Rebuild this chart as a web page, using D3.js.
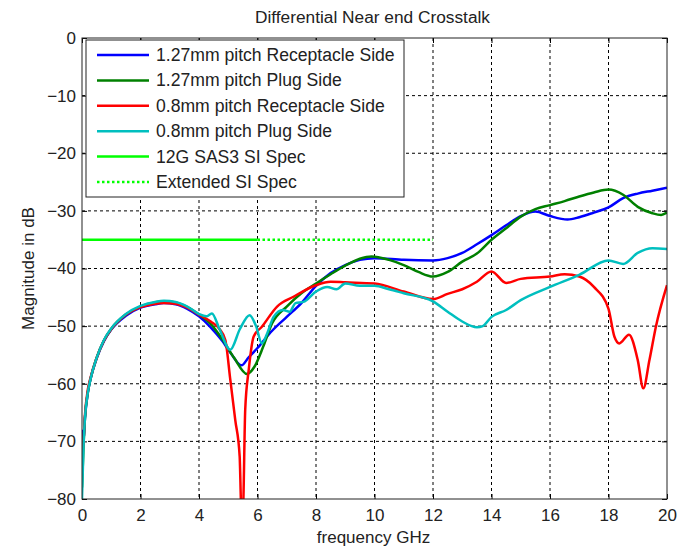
<!DOCTYPE html>
<html>
<head>
<meta charset="utf-8">
<script src="https://cdn.jsdelivr.net/npm/d3@7"></script>
<style>
  body { margin: 0; background: #fff; }
  text { font-family: "Liberation Sans", Arial, sans-serif; fill: #222; }
</style>
</head>
<body>
<svg id="chart" width="681" height="548"></svg>
<script>
// plot box
const width = 585;
const height = 461;
const margin = { top: 38, left: 82 };

// tick labels
const xTicks = [0, 2, 4, 6, 8, 10, 12, 14, 16, 18, 20];
const yTicks = [0, -10, -20, -30, -40, -50, -60, -70, -80];

// series names
const names = [
	"1.27mm pitch Receptacle Side",
	"1.27mm pitch Plug Side",
	"0.8mm pitch Receptacle Side",
	"0.8mm pitch Plug Side",
	"12G SAS3 SI Spec",
	"Extended SI Spec"
];

// 1.27mm receptacle (GHz, dB)
const blueFreq = [0, 0.05, 0.1, 0.2, 0.3, 0.5, 0.75, 1, 1.5, 2, 2.5, 2.8, 3.2, 3.6, 4, 4.4, 4.8, 5.1, 5.45, 5.7, 6, 6.5, 7, 7.5, 8, 8.5, 9, 9.5, 10, 11, 12, 12.5, 13, 13.5, 14, 14.5, 15, 15.5, 16, 16.6, 17, 17.5, 18, 18.5, 19, 19.5, 20];
const blueDb = [-68, -70, -66, -61.5, -59, -55.6, -52.6, -50.6, -48.2, -46.8, -46.2, -46, -46.2, -47, -48.3, -50.2, -52.6, -54.8, -56.8, -55.4, -53.8, -50.8, -48.4, -46, -43, -40.8, -39.4, -38.5, -38.2, -38.5, -38.6, -38.2, -37.3, -35.8, -34.2, -32.5, -30.9, -30.1, -30.9, -31.5, -31.1, -30.3, -29.4, -27.8, -27, -26.5, -26];

// 1.27mm plug
const greenFreq = [0, 0.05, 0.1, 0.2, 0.3, 0.5, 0.75, 1, 1.5, 2, 2.5, 2.8, 3.2, 3.6, 4, 4.4, 4.8, 5.2, 5.64, 5.9, 6.2, 6.5, 7, 7.5, 8, 8.5, 9, 9.5, 9.9, 10.5, 11, 11.5, 12, 12.5, 13, 13.5, 14, 14.5, 15, 15.5, 16, 16.5, 17, 17.5, 18, 18.5, 19, 19.5, 19.8, 20];
const greenDb = [-78, -71, -66, -61.5, -59, -55.5, -52.5, -50.5, -48, -46.6, -45.9, -45.7, -45.9, -46.7, -48, -49.6, -52.3, -55.5, -58.3, -57, -53.5, -49.5, -46.6, -44.3, -42.6, -41, -39.5, -38.3, -37.9, -38.5, -39.4, -40.6, -41.4, -40.6, -38.8, -37.4, -35, -33, -31, -29.7, -29, -28.3, -27.5, -26.8, -26.3, -27.2, -29.3, -30.4, -30.7, -30.3];

// 0.8mm receptacle
const redFreq = [0, 0.05, 0.1, 0.2, 0.3, 0.5, 0.75, 1, 1.5, 2, 2.5, 2.8, 3.2, 3.6, 4, 4.4, 4.7, 4.9, 5.07, 5.24, 5.39, 5.45, 5.5, 5.58, 5.7, 5.87, 6.15, 6.67, 7.23, 8, 8.5, 9, 10, 11, 12, 12.5, 13, 13.5, 14, 14.5, 15, 16, 16.5, 17, 17.5, 18, 18.2, 18.37, 18.7, 19, 19.19, 19.4, 19.62, 20];
const redDb = [-72, -70, -65.5, -61, -58.8, -55.5, -52.5, -50.5, -48, -46.7, -46.1, -46, -46.1, -46.8, -48, -49.2, -50.5, -52.4, -59.3, -66.3, -72.6, -82, -82, -64.5, -57.6, -51.8, -50.1, -46.6, -44.9, -42.9, -42.3, -42.4, -42.6, -44, -45.3, -44.4, -43.6, -42.3, -40.5, -42.5, -41.8, -41.4, -41, -41.4, -43.2, -47, -51.8, -53, -51.5, -55.9, -60.8, -55.9, -50.1, -42.9];

// 0.8mm plug
const cyanFreq = [0, 0.05, 0.1, 0.2, 0.3, 0.5, 0.75, 1, 1.5, 2, 2.5, 2.8, 3.2, 3.6, 4, 4.25, 4.44, 4.7, 5.07, 5.4, 5.73, 5.95, 6.15, 6.35, 6.55, 6.87, 7.1, 7.3, 7.57, 8, 8.38, 8.7, 9, 9.5, 10, 10.5, 11, 12, 12.5, 13, 13.5, 13.7, 14, 14.5, 15, 16, 17, 18, 18.5, 19, 19.5, 20];
const cyanDb = [-80, -71, -66, -61.5, -59, -55.5, -52.4, -50.4, -47.9, -46.5, -45.8, -45.6, -45.8, -46.6, -47.9, -48.3, -47.8, -50.5, -54.1, -50.5, -48.1, -50, -53, -51, -48.4, -47.2, -47.5, -46, -45.8, -44, -43.2, -43.6, -42.6, -43, -43, -43.6, -44.3, -45.7, -47.5, -49.2, -50.2, -50, -48.4, -47.2, -45.5, -43.2, -41.1, -38.6, -39.2, -37.3, -36.5, -36.6];

// spec limit
const specDb = -35;
const specFreq = [0, 6];
const extFreq = [6, 12];

const colors = ["#0000ff", "#008000", "#ff0000", "#00bfbf", "#00ff00", "#00ff00"];

const svg = d3.select("#chart");

const x = d3.scaleLinear().domain([0, 20]).range([margin.left, margin.left + width]);
const y = d3.scaleLinear().domain([-80, 0]).range([margin.top + height, margin.top]);

// title
svg.append("text")
.attr("x", x(10) - 2)
.attr("y", 23)
.attr("text-anchor", "middle")
.style("font-size", "17.3px")
.text("Differential Near end Crosstalk");

// grid
svg.append("g")
.selectAll("line")
.data(xTicks.slice(1, -1))
.enter()
.append("line")
.attr("x1", d => x(d)).attr("x2", d => x(d))
.attr("y1", y(0)).attr("y2", y(-80))
.attr("stroke", "#000")
.attr("stroke-dasharray", "3,3");

svg.append("g")
.selectAll("line")
.data(yTicks.slice(1, -1))
.enter()
.append("line")
.attr("y1", d => y(d)).attr("y2", d => y(d))
.attr("x1", x(0)).attr("x2", x(20))
.attr("stroke", "#000")
.attr("stroke-dasharray", "3,3");

// axes with inward ticks
svg.append("g")
.attr("transform", "translate(0," + y(-80) + ")")
.call(d3.axisBottom(x).tickValues(xTicks).tickSizeInner(-5).tickSizeOuter(0).tickPadding(10))
.call(g => g.select(".domain").remove())
.selectAll("text").style("font-size", "17px").attr("fill", "#222");

svg.append("g")
.attr("transform", "translate(" + x(0) + ",0)")
.call(d3.axisLeft(y).tickValues(yTicks).tickSizeInner(-5).tickSizeOuter(0).tickPadding(6))
.call(g => g.select(".domain").remove())
.selectAll("text").style("font-size", "17px").attr("fill", "#222");

svg.append("g")
.attr("transform", "translate(0," + y(0) + ")")
.call(d3.axisTop(x).tickValues(xTicks).tickSizeInner(-5).tickSizeOuter(0).tickFormat(""))
.call(g => g.select(".domain").remove());

svg.append("g")
.attr("transform", "translate(" + x(20) + ",0)")
.call(d3.axisRight(y).tickValues(yTicks).tickSizeInner(-5).tickSizeOuter(0).tickFormat(""))
.call(g => g.select(".domain").remove());

// curves
svg.append("clipPath").attr("id", "clip")
.append("rect")
.attr("x", x(0)).attr("y", y(0))
.attr("width", width).attr("height", height);

const line = d3.line().x(d => x(d[0])).y(d => y(d[1])).curve(d3.curveMonotoneX);
const plot = svg.append("g").attr("clip-path", "url(#clip)");

const curves = [
	d3.zip(blueFreq, blueDb),
	d3.zip(greenFreq, greenDb),
	d3.zip(redFreq, redDb),
	d3.zip(cyanFreq, cyanDb)
];

curves.forEach((pts, i) => {
	plot.append("path")
	.datum(pts)
	.attr("d", line)
	.attr("fill", "none")
	.attr("stroke", colors[i])
	.attr("stroke-width", 2.5)
	.attr("stroke-linejoin", "round");
});

plot.append("path")
.datum(specFreq.map(f => [f, specDb]))
.attr("d", line)
.attr("stroke", colors[4])
.attr("stroke-width", 2.5);

plot.append("path")
.datum(extFreq.map(f => [f, specDb]))
.attr("d", line)
.attr("stroke", colors[5])
.attr("stroke-width", 2.5)
.attr("stroke-dasharray", "2.5,2.5");

// box
svg.append("rect")
.attr("x", x(0)).attr("y", y(0))
.attr("width", width).attr("height", height)
.attr("fill", "none")
.attr("stroke", "#222");

// legend
const legend = svg.append("g").attr("transform", "translate(86,40)");

legend.append("rect")
.attr("width", 318).attr("height", 157)
.attr("fill", "#fff")
.attr("stroke", "#222");

names.forEach((name, i) => {
	const ly = 15 + i * 25.4;
	legend.append("line")
	.attr("x1", 11).attr("x2", 63)
	.attr("y1", ly).attr("y2", ly)
	.attr("stroke", colors[i])
	.attr("stroke-width", 2.5)
	.attr("stroke-dasharray", i === 5 ? "2.5,2.5" : null);
	legend.append("text")
	.attr("x", 70)
	.attr("y", ly + 6)
	.style("font-size", "17.6px")
	.text(name);
});

// axis labels
svg.append("text")
.attr("x", x(10) - 1)
.attr("y", 543)
.attr("text-anchor", "middle")
.style("font-size", "17px")
.text("frequency GHz");

svg.append("text")
.attr("transform", "rotate(-90)")
.attr("x", -y(-40))
.attr("y", 34)
.attr("text-anchor", "middle")
.style("font-size", "17px")
.text("Magnitude in dB");
</script>
</body>
</html>
